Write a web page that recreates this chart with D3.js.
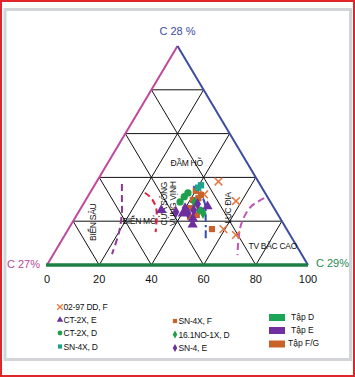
<!DOCTYPE html>
<html><head><meta charset="utf-8">
<script src="https://cdn.jsdelivr.net/npm/d3@7/dist/d3.min.js"></script>
<style>body{margin:0;background:#fff}svg{display:block}text{font-family:"Liberation Sans",Arial,sans-serif}</style>
</head><body>
<script>
// ---- data ----
const baseTicks = [0, 20, 40, 60, 80, 100];
const gridLevels = [20, 40, 60, 80];
const cornerLabels = ["C 28 %", "C 27%", "C 29%"];
// points as [x% along base, height %]
const s0297DD_F = [[65.7,38.1],[60.2,32.2],[72.4,29.2],[67.6,16.4],[72.4,13.7]];
const sCT2X_E = [[43.8,25.1],[61.5,26.8],[55.9,21.2],[55.8,18.5],[52.0,23.5]];
const sCT2X_D = [[54.0,32.9],[51.0,28.8],[58.6,25.1],[52.6,31.2]];
const sSN4X_D = [[57.9,35.3],[59.0,36.4]];
const sSN4X_F = [[63.2,16.4],[57.0,33.8],[59.0,32.0],[55.9,29.7],[54.8,26.0],[57.4,22.8],[54.8,22.0],[58.0,30.5]];
const s161NO1X_D = [[59.8,23.7],[56.5,28.5]];
const sSN4_E = [[52.9,26.0],[57.7,27.9],[54.0,23.7],[49.4,24.2],[56.2,25.0]];
const seriesNames = ["02-97 DD, F","CT-2X, E","CT-2X, D","SN-4X, D","SN-4X, F","16.1NO-1X, D","SN-4, E"];
const setNames = ["Tập D","Tập E","Tập F/G"];
const regionLabels = [
  {t:["ĐẦM HỒ"], x:53.5, h:46.5, rot:0},
  {t:["BIỂN SÂU"], x:17.5, h:19.5, rot:-90},
  {t:["BIỂN MỞ"], x:35.5, h:20, rot:0},
  {t:["CỬA SÔNG","VÙNG VỊNH"], x:46.5, h:28, rot:-90},
  {t:["LỤC ĐỊA"], x:69.5, h:26, rot:-90},
  {t:["TV BẮC CAO"], x:86.5, h:8.5, rot:0}
];
// boundary curves [x%, h%]
const curvePurple = [[28.7,37.0],[28.7,30.0],[28.7,24.0],[27.6,15.0],[24.9,5.0]];
const curveRed = [[37.5,33.0],[40.0,30.5],[41.8,26.0],[42.0,20.5],[41.6,15.0]];
const curveBlue = [[56.0,36.0],[58.5,33.0],[60.5,28.0],[60.8,20.0],[60.8,11.5]];
const curvePink = [[83.2,30.5],[78.0,26.5],[74.5,19.0],[73.3,11.0],[73.0,4.5]];

// ---- drawing ----
const W=355,H=377;
const svg=d3.select("body").append("svg").attr("width",W).attr("height",H);
svg.append("rect").attr("x",1).attr("y",1).attr("width",W-2).attr("height",H-2).attr("fill","#fff").attr("stroke","#e0262a").attr("stroke-width",2);
svg.append("rect").attr("x",5).attr("y",9.5).attr("width",345.5).attr("height",350).attr("fill","#fff").attr("stroke","#d3d4d8").attr("stroke-width",3);

const x=d3.scaleLinear().domain([0,100]).range([47,308]);
const y=d3.scaleLinear().domain([0,100]).range([265,46]);
const P=(a,h)=>[x(a),y(h)];

const grid=svg.append("g").attr("stroke","#111").attr("stroke-width",1).attr("fill","none");
gridLevels.forEach(k=>{
  // horizontal
  grid.append("line").attr("x1",x(k/2)).attr("y1",y(k)).attr("x2",x(100-k/2)).attr("y2",y(k));
  // parallel to left side from base k
  grid.append("line").attr("x1",x(k)).attr("y1",y(0)).attr("x2",x(100-(100-k)/2)).attr("y2",y(100-k));
  // parallel to right side from base k
  grid.append("line").attr("x1",x(k)).attr("y1",y(0)).attr("x2",x(k/2)).attr("y2",y(k));
});

// sides
svg.append("line").attr("x1",x(0)).attr("y1",y(0)).attr("x2",x(50)).attr("y2",y(100)).attr("stroke","#c0489c").attr("stroke-width",2);
svg.append("line").attr("x1",x(50)).attr("y1",y(100)).attr("x2",x(100)).attr("y2",y(0)).attr("stroke","#3e4c9e").attr("stroke-width",2);
svg.append("line").attr("x1",x(0)-1).attr("y1",y(0)).attr("x2",x(100)).attr("y2",y(0)).attr("stroke","#1e7f44").attr("stroke-width",3.5);

// corner labels
svg.append("text").attr("x",x(50)).attr("y",35).attr("text-anchor","middle").attr("fill","#3e4c9e").attr("font-size",11).text(cornerLabels[0]);
svg.append("text").attr("x",40).attr("y",268).attr("text-anchor","end").attr("fill","#b8489a").attr("font-size",11).text(cornerLabels[1]);
svg.append("text").attr("x",316).attr("y",267).attr("fill","#2a8a52").attr("font-size",11).text(cornerLabels[2]);

// base tick labels
svg.append("g").selectAll("text").data(baseTicks).join("text")
  .attr("x",d=>x(d)).attr("y",283).attr("text-anchor","middle").attr("font-size",11).attr("fill","#111").text(d=>d);

// region labels
regionLabels.forEach(r=>{
  const [px,py]=P(r.x,r.h);
  const g=svg.append("g").attr("transform",`translate(${px},${py}) rotate(${r.rot})`);
  const n=r.t.length;
  r.t.forEach((s,i)=>g.append("text").attr("x",0).attr("y",(i-(n-1)/2)*8.5+3).attr("text-anchor","middle")
    .attr("font-size",8.5).attr("fill","#111").attr("letter-spacing",-0.3).text(s));
});

// curves
const line=d3.line().x(d=>x(d[0])).y(d=>y(d[1])).curve(d3.curveCatmullRom);
svg.append("path").attr("d",line(curvePurple)).attr("fill","none").attr("stroke","#8a3a8e").attr("stroke-width",2).attr("stroke-dasharray","7,4");
svg.append("path").attr("d",line(curveRed)).attr("fill","none").attr("stroke","#e0203c").attr("stroke-width",2).attr("stroke-dasharray","6,4");
svg.append("path").attr("d",line(curveBlue)).attr("fill","none").attr("stroke","#2f4fb0").attr("stroke-width",2).attr("stroke-dasharray","8,3,2,3");
svg.append("path").attr("d",line(curvePink)).attr("fill","none").attr("stroke","#c256b4").attr("stroke-width",2).attr("stroke-dasharray","7,4");

// markers
const colors={x:"#e4763e",triP:"#6d2f9e",circG:"#1fa04c",sqT:"#1ea48e",sqO:"#c8622c",diaG:"#1fa04c",diaP:"#6d2f9e"};
const sym={x:d3.symbolX,triP:d3.symbolTriangle,circG:d3.symbolCircle,sqT:d3.symbolSquare,sqO:d3.symbolSquare,diaG:d3.symbolDiamond,diaP:d3.symbolDiamond};
const sizes={x:40,triP:45,circG:42,sqT:40,sqO:38,diaG:40,diaP:40};
const seriesData=[["x",s0297DD_F],["sqO",sSN4X_F],["circG",sCT2X_D],["sqT",sSN4X_D],["diaG",s161NO1X_D],["diaP",sSN4_E],["triP",sCT2X_E]];
seriesData.forEach(([k,data])=>{
  svg.append("g").selectAll("path").data(data).join("path")
    .attr("transform",d=>`translate(${x(d[0])},${y(d[1])})`)
    .attr("d",d3.symbol().type(sym[k]).size(sizes[k]))
    .attr("fill",k==="x"?"none":colors[k]).attr("stroke",colors[k]).attr("stroke-width",k==="x"?1.5:0);
});

// legend
const legItems=[
  {k:"x",n:seriesNames[0],lx:60,ly:307},
  {k:"triP",n:seriesNames[1],lx:60,ly:320},
  {k:"circG",n:seriesNames[2],lx:60,ly:333},
  {k:"sqT",n:seriesNames[3],lx:60,ly:346.5},
  {k:"sqO",n:seriesNames[4],lx:175,ly:321},
  {k:"diaG",n:seriesNames[5],lx:175,ly:334.5},
  {k:"diaP",n:seriesNames[6],lx:175,ly:348}
];
legItems.forEach(it=>{
  svg.append("path").attr("transform",`translate(${it.lx},${it.ly})`)
    .attr("d",d3.symbol().type(sym[it.k]).size(it.k==="x"?22:18))
    .attr("fill",it.k==="x"?"none":colors[it.k]).attr("stroke",colors[it.k]).attr("stroke-width",it.k==="x"?1.3:0);
  svg.append("text").attr("x",it.lx+3.5).attr("y",it.ly+3).attr("font-size",8.5).attr("fill","#111").attr("letter-spacing",-0.2).text(it.n);
});
const setColors=["#1aa656","#7030a0","#cc6128"];
setNames.forEach((s,i)=>{
  const yy=[317.5,330.5,344][i];
  svg.append("rect").attr("x",269).attr("y",yy-3.5).attr("width",16).attr("height",7).attr("fill",setColors[i]);
  svg.append("text").attr("x",[291,291,288][i]).attr("y",yy+2).attr("font-size",8.5).attr("fill","#111").text(s);
});
</script>
</body></html>
